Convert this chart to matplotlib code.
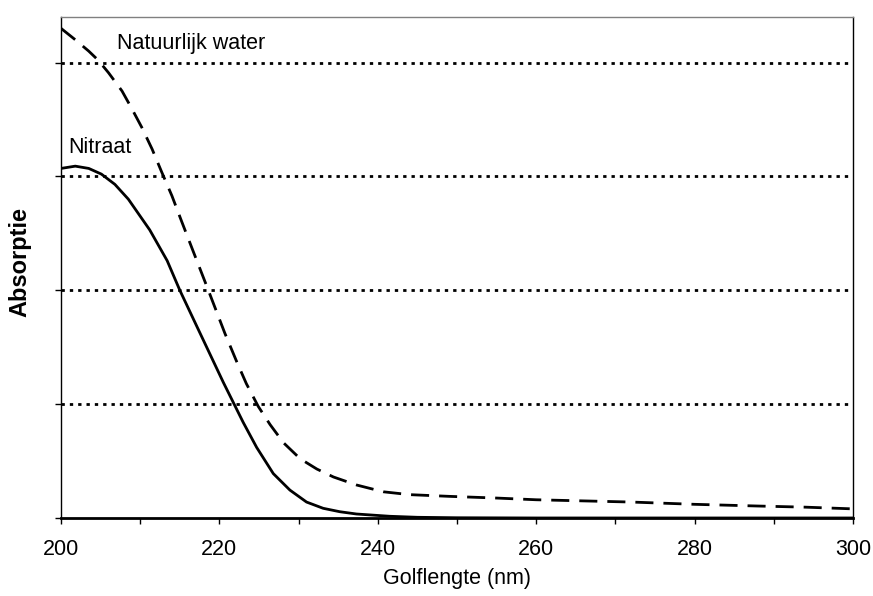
import matplotlib
matplotlib.use("Agg")
import matplotlib.pyplot as plt
from matplotlib.ticker import MultipleLocator, NullFormatter

plt.rcParams["font.family"] = ["Liberation Sans", "DejaVu Sans"]

# curves (wavelength nm, absorption in gridline units)
water_x = [200, 201.8, 203.5, 204.7, 206.0, 207.7, 208.9, 210.2, 211.5, 212.7,
           214.0, 215.2, 216.7, 218.6, 220.7, 222.2, 223.4, 224.9, 226.4, 228.1,
           230.2, 232.3, 234.4, 237.3, 240.7, 244, 249, 255, 260, 266, 272,
           280, 288, 294, 300]
water_y = [4.30, 4.20, 4.10, 4.02, 3.91, 3.75, 3.60, 3.43, 3.24, 3.04,
           2.83, 2.61, 2.34, 2.00, 1.62, 1.37, 1.18, 0.98, 0.82, 0.66,
           0.52, 0.43, 0.36, 0.29, 0.23, 0.205, 0.19, 0.175, 0.16, 0.15, 0.14,
           0.12, 0.105, 0.095, 0.08]

nitrate_x = [200, 201.8, 203.5, 205.1, 206.8, 208.5, 210.2, 211.2, 213.4, 215.0,
             217.1, 218.8, 220.5, 222.0, 223.0, 224.7, 226.8, 228.9, 231.0,
             233.1, 235.2, 237.3, 241.5, 245, 250, 260, 300]
nitrate_y = [3.07, 3.09, 3.07, 3.02, 2.93, 2.80, 2.63, 2.53, 2.26, 2.00,
             1.69, 1.44, 1.19, 0.98, 0.84, 0.62, 0.39, 0.245, 0.14,
             0.085, 0.055, 0.035, 0.015, 0.006, 0.002, 0.0, 0.0]

grid_levels = [1, 2, 3, 4]
x_ticks = [200, 220, 240, 260, 280, 300]

fig = plt.figure(figsize=(8.73, 5.96), dpi=100)
ax = fig.add_axes([0.0699, 0.1309, 0.9072, 0.8406])

for g in grid_levels:
    ax.axhline(g, color="black", lw=2, linestyle=(0, (1.2, 1.8)), zorder=1)

ax.plot(water_x, water_y, color="black", lw=2, linestyle=(0, (6.5, 3.6)),
        dash_joinstyle="round", zorder=3)
ax.plot(nitrate_x, nitrate_y, color="black", lw=2, solid_joinstyle="round", zorder=3)

ax.text(207.1, 4.17, "Natuurlijk water", fontsize=15.5, va="center", ha="left")
ax.text(200.9, 3.25, "Nitraat", fontsize=15.5, va="center", ha="left")

ax.set_xlim(200, 300)
ax.set_ylim(0, 4.4)
ax.set_xticks(x_ticks)
ax.xaxis.set_minor_locator(MultipleLocator(10))
ax.set_yticks([0] + grid_levels)
ax.yaxis.set_major_formatter(NullFormatter())
ax.tick_params(axis="x", which="both", direction="out", length=4, width=1,
               labelsize=15.5, pad=11)
ax.tick_params(axis="y", direction="out", length=4.5, width=1)

ax.set_xlabel("Golflengte (nm)", fontsize=15.5, labelpad=6)
ax.set_ylabel("Absorptie", fontsize=17, fontweight="bold")
ax.yaxis.set_label_coords(-0.037, 0.51)

ax.spines["top"].set_color("#808080")
ax.spines["top"].set_linewidth(1)
ax.spines["right"].set_color("black")
ax.spines["right"].set_linewidth(1)
ax.spines["left"].set_linewidth(1)
ax.spines["bottom"].set_linewidth(2)

fig.savefig("out.png", dpi=100)
